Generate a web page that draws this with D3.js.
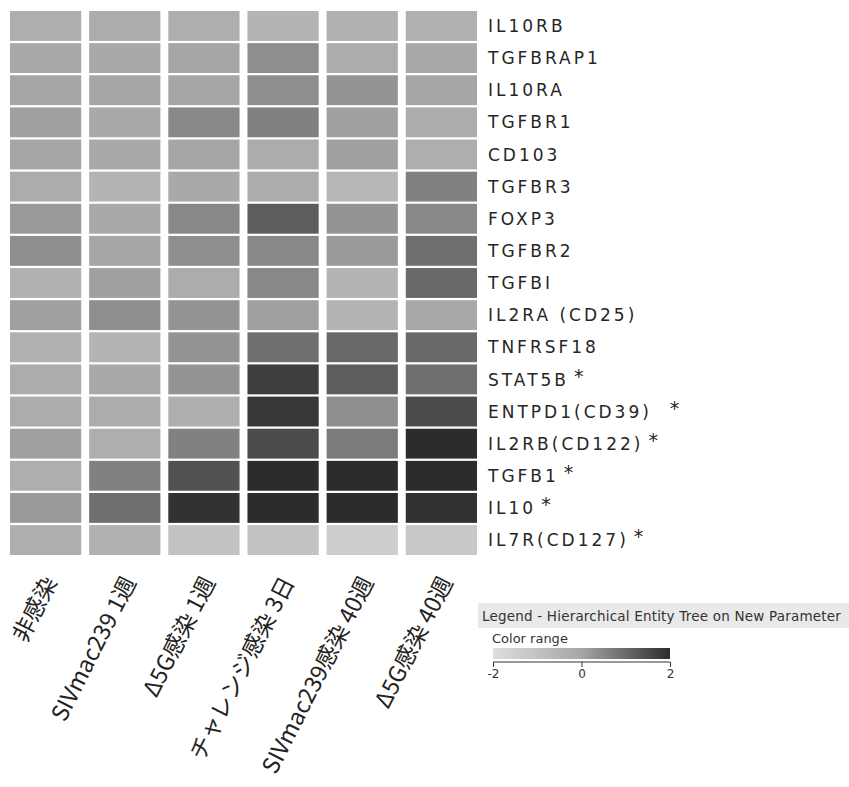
<html>
<head>
<meta charset="utf-8">
<style>
body { margin: 0; background: #fff; }
.gene { font-family: "DejaVu Sans", sans-serif; font-size: 17px; fill: #262626; letter-spacing: 3px; }
.cond { font-family: "Noto Sans CJK JP", sans-serif; font-size: 23px; fill: #222; }
.leg { font-family: "DejaVu Sans", sans-serif; fill: #333; }
</style>
</head>
<body>
<svg width="849" height="787"></svg>
<script src="https://d3js.org/d3.v7.min.js"></script>
<script>

var genes = ["IL10RB", "TGFBRAP1", "IL10RA", "TGFBR1", "CD103", "TGFBR3", "FOXP3", "TGFBR2",
  "TGFBI", "IL2RA (CD25)", "TNFRSF18", "STAT5B", "ENTPD1(CD39)", "IL2RB(CD122)", "TGFB1", "IL10", "IL7R(CD127)"];
var starred = ["STAT5B", "ENTPD1(CD39)", "IL2RB(CD122)", "TGFB1", "IL10", "IL7R(CD127)"];

var conditions = ["非感染", "SIVmac239 1週", "Δ5G感染 1週", "チャレンジ感染 3日", "SIVmac239感染 40週", "Δ5G感染 40週"];

// one row per gene, one value per condition
var values = [
  [-0.3, -0.2, -0.3, -0.5, -0.4, -0.4],
  [-0.1, -0.1,  0.0,  0.4, -0.2, -0.1],
  [ 0.0,  0.0,  0.0,  0.4,  0.3,  0.0],
  [ 0.1, -0.1,  0.5,  0.6,  0.1, -0.2],
  [ 0.0, -0.1,  0.0, -0.2,  0.1, -0.3],
  [-0.2, -0.5, -0.1, -0.2, -0.6,  0.6],
  [ 0.2, -0.1,  0.5,  1.2,  0.3,  0.5],
  [ 0.4,  0.0,  0.4,  0.5,  0.2,  0.9],
  [-0.4,  0.1, -0.2,  0.5, -0.5,  1.0],
  [ 0.1,  0.4,  0.3,  0.1, -0.5, -0.1],
  [-0.4, -0.5,  0.3,  0.9,  1.0,  1.0],
  [-0.2, -0.1,  0.3,  1.7,  1.2,  0.9],
  [-0.2, -0.2, -0.3,  1.8,  0.4,  1.5],
  [ 0.1, -0.3,  0.6,  1.5,  0.7,  2.0],
  [-0.3,  0.6,  1.4,  2.0,  2.0,  2.0],
  [ 0.2,  0.9,  1.9,  2.0,  2.0,  1.9],
  [-0.3, -0.4, -1.0, -1.0, -1.4, -1.2]
];

var legendTicks = [-2, 0, 2];

var svg = d3.select("svg");

var x = d3.scaleBand().domain(conditions).range([10, 477]).paddingInner(0.1);
var y = d3.scaleBand().domain(genes).range([11, 555]).paddingInner(0.07);
var color = d3.scaleLinear().domain([-2, 0, 2]).range(["#dedede", "#a6a6a6", "#2c2c2c"]).clamp(true);

var cells = [];
values.forEach(function(row, i) {
  row.forEach(function(v, j) { cells.push({gene: genes[i], cond: conditions[j], v: v}); });
});

svg.append("g").selectAll("rect")
  .data(cells)
  .enter().append("rect")
    .attr("x", function(d) { return x(d.cond); })
    .attr("y", function(d) { return y(d.gene); })
    .attr("width", x.bandwidth())
    .attr("height", y.bandwidth())
    .attr("fill", function(d) { return color(d.v); });

// gene labels
var gl = svg.append("g").selectAll("text")
  .data(genes)
  .enter().append("text")
    .attr("class", "gene")
    .attr("x", 488)
    .attr("y", function(d) { return y(d) + y.bandwidth() / 2; })
    .attr("dy", "0.36em")
    .text(function(d) { return d; });
gl.filter(function(d) { return starred.indexOf(d) >= 0; })
  .append("tspan")
    .attr("dx", function(d) { return d == "ENTPD1(CD39)" ? 18 : 5; })
    .attr("dy", "-0.15em")
    .style("font-size", "19px")
    .text("*");

// condition labels, rotated
svg.append("g").selectAll("text")
  .data(conditions)
  .enter().append("text")
    .attr("class", "cond")
    .attr("text-anchor", "end")
    .attr("transform", function(d) {
      return "translate(" + (x(d) + x.bandwidth() / 2 + 12) + ",582) rotate(-63)";
    })
    .text(function(d) { return d; });

// legend
var lg = svg.append("g");
lg.append("rect").attr("x", 478).attr("y", 603).attr("width", 371).attr("height", 25).attr("fill", "#e9e9e9");
lg.append("text").attr("class", "leg").attr("x", 482).attr("y", 621)
  .style("font-size", "13.5px").style("letter-spacing", "0.2px")
  .text("Legend - Hierarchical Entity Tree on New Parameter");
lg.append("text").attr("class", "leg").attr("x", 492).attr("y", 643)
  .style("font-size", "13px").text("Color range");

var grad = svg.append("defs").append("linearGradient").attr("id", "grad");
grad.selectAll("stop")
  .data(legendTicks)
  .enter().append("stop")
    .attr("offset", function(d, i) { return (i / (legendTicks.length - 1) * 100) + "%"; })
    .attr("stop-color", function(d) { return color(d); });

var lx = d3.scaleLinear().domain([-2, 2]).range([493, 670]);
lg.append("rect").attr("x", 493).attr("y", 648).attr("width", 177).attr("height", 11).attr("fill", "url(#grad)");
var ax = lg.append("g").attr("transform", "translate(0,662)")
  .call(d3.axisBottom(lx).tickValues(legendTicks).tickFormat(function(d) { return String(d).replace("\u2212", "-"); })
    .tickSize(5).tickSizeOuter(0).tickPadding(2));
ax.select(".domain").remove();
ax.append("line").attr("x1", 493).attr("x2", 670).attr("stroke", "#333");
ax.selectAll("text").style("font-size", "12px").attr("fill", "#333").style("font-family", "DejaVu Sans, sans-serif");
ax.selectAll(".tick line").attr("stroke", "#333");

</script>
</body>
</html>
